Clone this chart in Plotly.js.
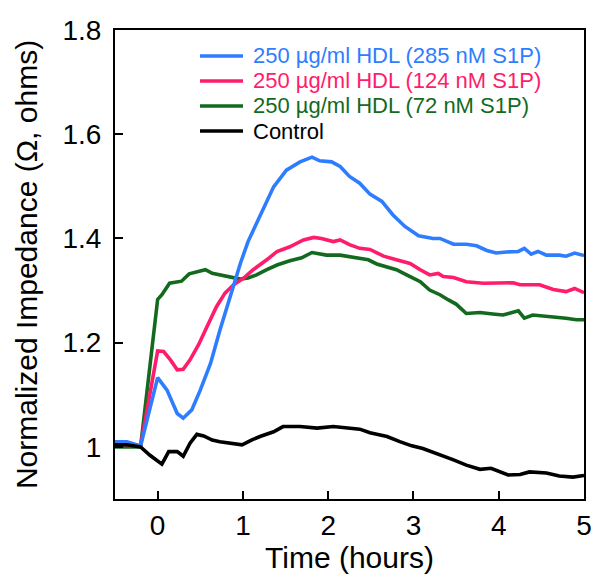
<!DOCTYPE html>
<html>
<head>
<meta charset="utf-8">
<script src="https://cdn.plot.ly/plotly-3.0.1.min.js"></script>
<style>
  html, body { margin: 0; padding: 0; background: #fff; }
  #chart { width: 600px; height: 581px; }
</style>
</head>
<body>
<div id="chart"></div>
<script>
// ---- Data ----
const seriesNames = [
  "250 µg/ml HDL (285 nM S1P)",
  "250 µg/ml HDL (124 nM S1P)",
  "250 µg/ml HDL (72 nM S1P)",
  "Control"
];
const seriesColors = ["#2f7dff", "#ff1c6c", "#136a1e", "#000000"];

const hoursBlue = [-0.5, -0.36, -0.2, 0.0, 0.11, 0.23, 0.30, 0.40, 0.50, 0.62, 0.73, 0.85, 0.97, 1.06, 1.20, 1.36, 1.51, 1.67, 1.81, 1.90, 2.04, 2.14, 2.25, 2.37, 2.49, 2.63, 2.76, 2.90, 3.06, 3.23, 3.31, 3.47, 3.62, 3.74, 3.86, 3.97, 4.09, 4.23, 4.30, 4.38, 4.46, 4.56, 4.71, 4.79, 4.89, 5.0];
const impBlue   = [1.010, 1.010, 1.002, 1.133, 1.109, 1.064, 1.055, 1.071, 1.109, 1.160, 1.224, 1.288, 1.352, 1.394, 1.442, 1.499, 1.531, 1.547, 1.556, 1.549, 1.547, 1.538, 1.519, 1.506, 1.485, 1.471, 1.445, 1.423, 1.405, 1.400, 1.400, 1.389, 1.389, 1.386, 1.377, 1.372, 1.374, 1.375, 1.381, 1.370, 1.375, 1.368, 1.368, 1.366, 1.372, 1.367];

const hoursPink = [-0.5, -0.36, -0.2, 0.0, 0.07, 0.15, 0.23, 0.30, 0.38, 0.48, 0.58, 0.69, 0.79, 0.89, 1.01, 1.12, 1.28, 1.40, 1.55, 1.71, 1.83, 1.92, 2.06, 2.14, 2.25, 2.37, 2.49, 2.65, 2.80, 2.96, 3.08, 3.19, 3.29, 3.35, 3.47, 3.62, 3.82, 4.01, 4.17, 4.25, 4.48, 4.64, 4.79, 4.89, 5.0];
const impPink   = [1.004, 1.004, 1.002, 1.184, 1.183, 1.167, 1.148, 1.149, 1.167, 1.196, 1.231, 1.269, 1.295, 1.311, 1.324, 1.340, 1.359, 1.375, 1.384, 1.397, 1.402, 1.400, 1.394, 1.397, 1.388, 1.381, 1.379, 1.366, 1.359, 1.352, 1.340, 1.330, 1.333, 1.327, 1.325, 1.317, 1.314, 1.315, 1.315, 1.311, 1.311, 1.302, 1.298, 1.304, 1.296];

const hoursGreen = [-0.5, -0.36, -0.2, 0.0, 0.05, 0.14, 0.28, 0.37, 0.46, 0.56, 0.64, 0.73, 0.87, 0.97, 1.06, 1.16, 1.28, 1.40, 1.55, 1.69, 1.81, 1.92, 1.98, 2.14, 2.25, 2.37, 2.47, 2.57, 2.69, 2.80, 2.92, 3.08, 3.19, 3.31, 3.41, 3.50, 3.62, 3.78, 3.93, 4.05, 4.23, 4.30, 4.40, 4.56, 4.68, 4.79, 4.91, 5.0];
const impGreen   = [1.000, 1.000, 1.000, 1.283, 1.292, 1.314, 1.318, 1.332, 1.336, 1.340, 1.333, 1.330, 1.324, 1.322, 1.324, 1.330, 1.340, 1.349, 1.357, 1.363, 1.373, 1.370, 1.368, 1.368, 1.365, 1.360, 1.359, 1.351, 1.346, 1.340, 1.330, 1.317, 1.301, 1.292, 1.282, 1.274, 1.256, 1.258, 1.255, 1.253, 1.261, 1.247, 1.253, 1.251, 1.249, 1.247, 1.244, 1.244];

const hoursBlack = [-0.5, -0.36, -0.2, -0.09, 0.05, 0.13, 0.23, 0.30, 0.38, 0.46, 0.54, 0.64, 0.73, 0.85, 0.99, 1.10, 1.20, 1.36, 1.47, 1.67, 1.87, 2.06, 2.25, 2.37, 2.49, 2.69, 2.84, 2.98, 3.11, 3.27, 3.47, 3.62, 3.78, 3.91, 4.01, 4.11, 4.25, 4.36, 4.56, 4.71, 4.87, 5.0];
const impBlack   = [1.004, 1.004, 1.000, 0.984, 0.967, 0.991, 0.991, 0.982, 1.007, 1.024, 1.021, 1.013, 1.010, 1.008, 1.004, 1.013, 1.020, 1.029, 1.039, 1.039, 1.036, 1.039, 1.036, 1.034, 1.027, 1.020, 1.010, 1.002, 0.997, 0.988, 0.975, 0.965, 0.957, 0.959, 0.952, 0.946, 0.947, 0.952, 0.950, 0.944, 0.942, 0.945];

const xTickVals = [0, 1, 2, 3, 4, 5];
const xTickText = ["0", "1", "2", "3", "4", "5"];
const yTickVals = [1.0, 1.2, 1.4, 1.6, 1.8];
const yTickText = ["1", "1.2", "1.4", "1.6", "1.8"];

// ---- Build traces (drawing order: green, pink, blue, black) ----
const xs = [hoursBlue, hoursPink, hoursGreen, hoursBlack];
const ys = [impBlue, impPink, impGreen, impBlack];
const order = [2, 1, 0, 3];
const traces = order.map(i => ({
  x: xs[i], y: ys[i], type: "scatter", mode: "lines",
  name: seriesNames[i],
  line: { color: seriesColors[i], width: 3.6 },
  showlegend: false, hoverinfo: "skip"
}));

const FONT = "Liberation Sans, Arial, Helvetica, sans-serif";
const mL = 115, mR = 16, mT = 30, mB = 82;
const W = 600, H = 581;
const plotW = W - mL - mR, plotH = H - mT - mB;

// legend built as annotations + sample lines (positions in pixels within the plot)
const legTextX = 136, legLineX0 = 85, legLineX1 = 128, legRow0 = 26, legStep = 25;
const annotations = [], shapes = [];
seriesNames.forEach((nm, i) => {
  const yPaper = 1 - (legRow0 + i * legStep) / plotH;
  annotations.push({
    xref: "paper", yref: "paper", x: legTextX / plotW, y: yPaper,
    xanchor: "left", yanchor: "middle", showarrow: false,
    text: nm, font: { family: FONT, size: 22, color: seriesColors[i] }
  });
  shapes.push({
    type: "line", xref: "paper", yref: "paper",
    x0: legLineX0 / plotW, x1: legLineX1 / plotW, y0: yPaper, y1: yPaper,
    line: { color: seriesColors[i], width: 3.6 }
  });
});

const layout = {
  width: W, height: H,
  margin: { l: mL, r: mR, t: mT, b: mB, pad: 0 },
  paper_bgcolor: "#ffffff", plot_bgcolor: "#ffffff",
  showlegend: false,
  font: { family: FONT, color: "#000" },
  xaxis: {
    range: [-0.5, 5], tickvals: xTickVals, ticktext: xTickText,
    ticks: "inside", ticklen: 8, tickwidth: 2, tickcolor: "#000",
    showline: true, linewidth: 2, linecolor: "#000", mirror: true,
    showgrid: false, zeroline: false,
    tickfont: { family: FONT, size: 28, color: "#000" },
    title: { text: "Time (hours)", font: { family: FONT, size: 30, color: "#000" }, standoff: 2 }
  },
  yaxis: {
    range: [0.9, 1.8], tickvals: yTickVals, ticktext: yTickText,
    ticks: "inside", ticklen: 8, tickwidth: 2, tickcolor: "#000",
    ticklabelstandoff: 6,
    showline: true, linewidth: 2, linecolor: "#000", mirror: true,
    showgrid: false, zeroline: false,
    tickfont: { family: FONT, size: 28, color: "#000" },
    title: { text: "Normalized Impedance (Ω, ohms)", font: { family: FONT, size: 30, color: "#000" }, standoff: 16 }
  },
  annotations: annotations,
  shapes: shapes
};

Plotly.newPlot("chart", traces, layout, { displayModeBar: false, staticPlot: true });
</script>
</body>
</html>
